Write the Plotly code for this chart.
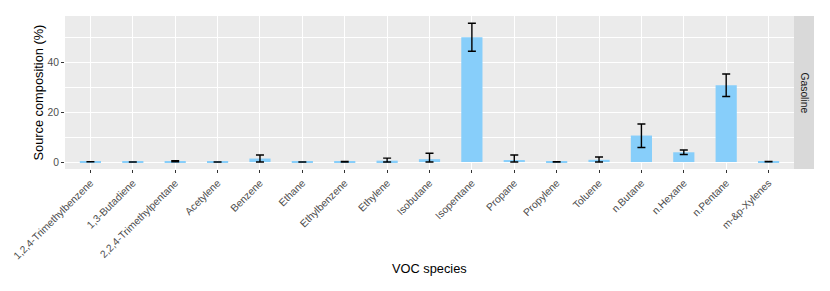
import plotly.graph_objects as go

species = ["1,2,4-Trimethylbenzene", "1,3-Butadiene", "2,2,4-Trimethylpentane", "Acetylene",
           "Benzene", "Ethane", "Ethylbenzene", "Ethylene", "Isobutane", "Isopentane",
           "Propane", "Propylene", "Toluene", "n.Butane", "n.Hexane", "n.Pentane", "m-&p-Xylenes"]
mean_pct = [0.10, 0.05, 0.30, 0.05, 1.40, 0.03, 0.12, 0.55, 1.15, 49.9,
            0.80, 0.08, 0.90, 10.6, 3.9, 30.7, 0.12]
err_hi = [0.05, 0.03, 0.25, 0.03, 1.40, 0.02, 0.08, 1.00, 2.35, 5.6,
          2.00, 0.05, 1.10, 4.6, 0.9, 4.5, 0.07]
err_lo = [0.05, 0.03, 0.25, 0.03, 1.40, 0.02, 0.08, 0.55, 1.15, 5.6,
          0.80, 0.05, 0.90, 4.8, 0.9, 4.5, 0.07]
facet_label = "Gasoline"

# the page body adds an 8px offset; size the figure to fill the rest of the window
OFF = 8
W, H = 830 - OFF, 291 - OFF
ml, mr, mt, mb = 65 - OFF, 36, 16 - OFF, 122
pw = W - ml - mr
ph = H - mt - mb

fig = go.Figure()
fig.add_trace(go.Bar(
    x=species, y=mean_pct, width=0.5,
    marker=dict(color="#87CEFA", line=dict(width=0)),
    error_y=dict(type="data", symmetric=False, array=err_hi, arrayminus=err_lo,
                 color="black", thickness=1.4, width=4),
    showlegend=False,
))

font_family = "Liberation Sans, Arial, Helvetica, sans-serif"

fig.update_layout(
    template="none",
    width=W, height=H,
    margin=dict(l=ml, r=mr, t=mt, b=mb, pad=0),
    paper_bgcolor="white", plot_bgcolor="#EBEBEB",
    font=dict(family=font_family, size=10, color="#4D4D4D"),
    xaxis=dict(
        type="category", range=[-0.6, len(species) - 0.4], automargin=False,
        showgrid=True, gridcolor="white", gridwidth=1.1,
        ticks="outside", ticklen=3, tickcolor="#333333", tickwidth=1,
        tickangle=-45, tickfont=dict(size=10.3, color="#4D4D4D"),
        zeroline=False, showline=False,
    ),
    yaxis=dict(
        range=[-2.78, 58.4], automargin=False,
        tickvals=[0, 20, 40], ticktext=["0", "20", "40"],
        showgrid=True, gridcolor="white", gridwidth=1.1,
        minor=dict(tickvals=[10, 30, 50], showgrid=True, gridcolor="white", gridwidth=0.55, ticks=""),
        ticks="outside", ticklen=3, tickcolor="#333333", tickwidth=1,
        tickfont=dict(size=10.3, color="#4D4D4D"),
        zeroline=False, showline=False,
    ),
)

# facet strip on the right
fig.add_shape(type="rect", xref="paper", yref="paper",
              x0=1, x1=1 + 20 / pw, y0=0, y1=1,
              fillcolor="#D9D9D9", line=dict(width=0), layer="below")
fig.add_annotation(xref="paper", yref="paper", x=1 + 10 / pw, y=0.5,
                   text=facet_label, textangle=90, showarrow=False,
                   font=dict(size=10.3, color="#1A1A1A"), xanchor="center", yanchor="middle")

# axis titles (positions given in window pixels)
fig.add_annotation(xref="paper", yref="paper", x=-(65 - 38) / pw, y=0.5,
                   text="Source composition (%)", textangle=-90, showarrow=False,
                   font=dict(size=12.8, color="black"), xanchor="center", yanchor="middle")
fig.add_annotation(xref="paper", yref="paper", x=0.5, y=-(268 - 16 - ph) / ph,
                   text="VOC species", showarrow=False,
                   font=dict(size=12.8, color="black"), xanchor="center", yanchor="middle")

fig.write_html("out.html")
